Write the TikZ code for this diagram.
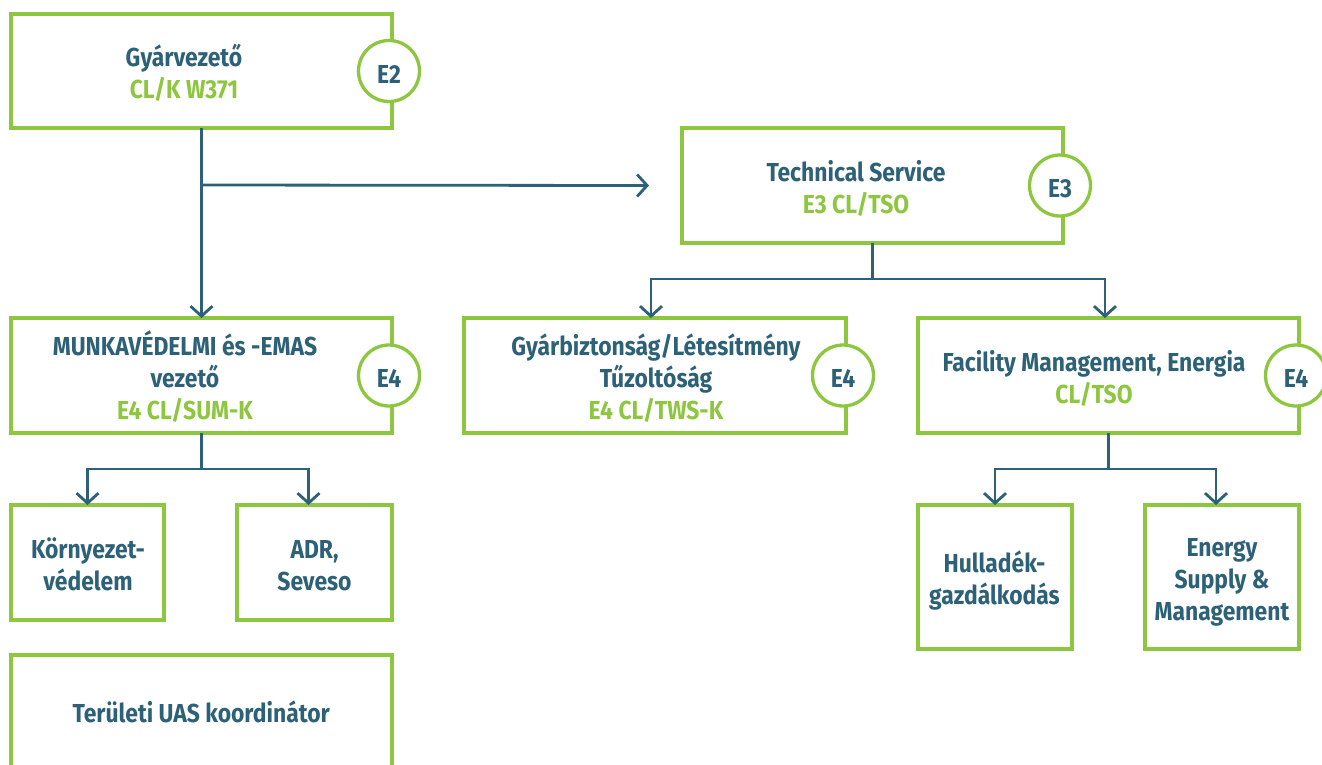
\documentclass[tikz,border=0pt]{standalone}
\usepackage{fontspec}
\setmainfont{Fira Sans}[FakeStretch=0.88]
\usetikzlibrary{arrows.meta,calc}
\definecolor{lgreen}{RGB}{141,198,63}
\definecolor{deepteal}{RGB}{44,97,120}
% strut: 24pt above and 8pt below the baseline, so every line is 32pt tall
\newcommand\ls{\rule[-8pt]{0pt}{32pt}}
\tikzset{
  box/.style={rectangle, draw=lgreen, line width=3.3pt, fill=white,
    anchor=north west, inner sep=0pt, outer sep=0pt},
  txt/.style={align=center, inner sep=0pt, outer sep=0pt,
    font=\bfseries\fontsize{26}{32}\selectfont, text=deepteal},
  badge/.style={circle, draw=lgreen, line width=3.3pt, fill=white,
    minimum size=61pt, inner sep=0pt, text=deepteal,
    font=\bfseries\fontsize{26}{32}\selectfont,
    text height=24pt, text depth=0pt},
  conn/.style={draw=deepteal, line width=2.8pt},
  arr/.style={conn, -{Straight Barb[length=10pt,width=22pt]}},
  hl/.style={text=lgreen}
}
\begin{document}
\begin{tikzpicture}[x=1pt,y=-1pt]
\clip (0,0) rectangle (1322,764);
\fill[white] (0,0) rectangle (1322,764);

% boxes
\node[box, minimum width=381pt, minimum height=114pt] (g)  at (11,14)  {};
\node[box, minimum width=381pt, minimum height=115pt] (ts) at (682,128) {};
\node[box, minimum width=381pt, minimum height=115pt] (m)  at (11,318) {};
\node[box, minimum width=382pt, minimum height=115pt] (gb) at (464,318) {};
\node[box, minimum width=381pt, minimum height=115pt] (fm) at (918,318) {};
\node[box, minimum width=153pt, minimum height=115pt] (k)  at (11,505) {};
\node[box, minimum width=155pt, minimum height=115pt] (adr) at (237,505) {};
\node[box, minimum width=381pt, minimum height=135pt] (uas) at (11,655) {};
\node[box, minimum width=154pt, minimum height=144pt] (h)  at (918,505) {};
\node[box, minimum width=154pt, minimum height=144pt] (en) at (1145,505) {};

% level badges
\node[badge] (bg)  at ([xshift=-3pt]g.east)  {E2};
\node[badge] (bts) at ([xshift=-3pt]ts.east) {E3};
\node[badge] (bm)  at ([xshift=-3pt]m.east)  {E4};
\node[badge] (bgb) at ([xshift=-3pt]gb.east) {E4};
\node[badge] (bfm) at ([xshift=-3pt]fm.east) {E4};

% connectors
\coordinate (j1) at ($(g.south)+(0,57)$);
\draw[arr] (g.south) -- (m.north);
\draw[arr] (j1) -- ([xshift=-33pt]ts.west);
\draw[arr] (ts.south) -- ++(0,36) -| ([xshift=-4pt]gb.north);
\draw[arr] (ts.south) -- ++(0,36) -| ([xshift=-3.5pt]fm.north);
\draw[arr] (m.south) -- ++(0,36) -| (k.north);
\draw[arr] (m.south) -- ++(0,36) -| ([xshift=-6pt]adr.north);
\draw[arr] (fm.south) -- ++(0,36) -| (h.north);
\draw[arr] (fm.south) -- ++(0,36) -| ([xshift=-6pt]en.north);

% texts
\node[txt] (gt)  at (184,74.7)  {\ls Gyárvezető\\\ls\color{lgreen}CL/K W371};
\node[txt] (tst) at (856,189.7) {\ls Technical Service\\\ls\color{lgreen}E3 CL/TSO};
\node[txt] (mt)  at (185,379)   {\ls MUNKAVÉDELMI és -EMAS\\\ls vezető\\\ls\color{lgreen}E4 CL/SUM-K};
\node[txt] (gbt) at (656,379)   {\ls Gyárbiztonság/Létesítmény\\\ls Tűzoltóság\\\ls\color{lgreen}E4 CL/TWS-K};
\node[txt] (fmt) at (1094,379.7) {\ls Facility Management, Energia\\\ls\color{lgreen}CL/TSO};
\node[txt] (kt)  at (88,566.3)  {\ls Környezet-\\\ls védelem};
\node[txt] (adrt) at (314.5,566.3) {\ls ADR,\\\ls Seveso};
\node[txt] (uast) at (201.3,714.7) {\ls Területi UAS koordinátor};
\node[txt] (ht)  at (994.5,580.7) {\ls Hulladék-\\\ls gazdálkodás};
\node[txt] (ent) at (1222,580.7)  {\ls Energy\\\ls Supply \&\\\ls Management};
\end{tikzpicture}
\end{document}
